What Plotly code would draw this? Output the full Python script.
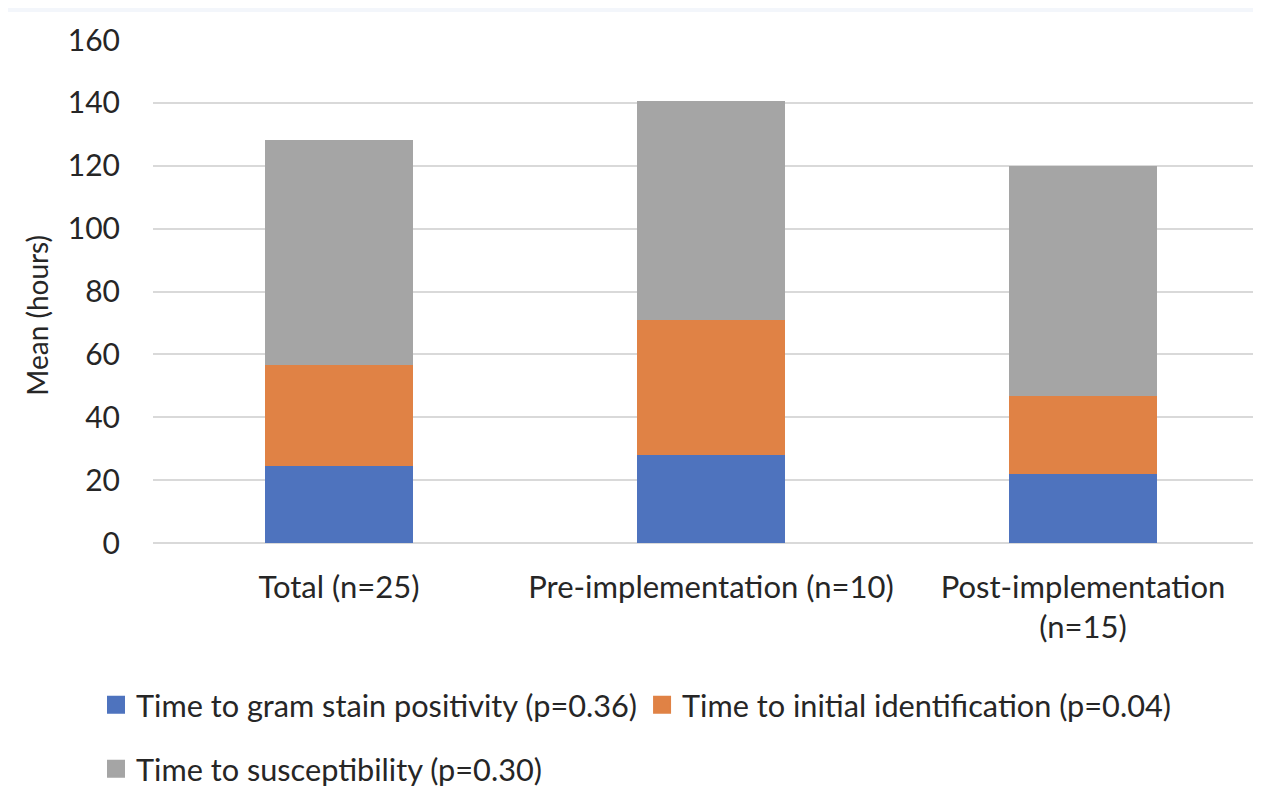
import plotly.graph_objects as go

categories = ["Total (n=25)", "Pre-implementation (n=10)", "Post-implementation<br>(n=15)"]
gram_stain = [24.4, 28.0, 22.1]
initial_id = [32.1, 43.0, 24.8]
susceptibility = [71.8, 69.5, 72.9]
series_names = [
    "Time to gram stain positivity (p=0.36)",
    "Time to initial identification (p=0.04)",
    "Time to susceptibility (p=0.30)",
]
colors = ["#4e73be", "#e08245", "#a5a5a5"]
y_ticks = [0, 20, 40, 60, 80, 100, 120, 140, 160]
y_title = "Mean (hours)"

FONT = "Lato"
TXT = "#262626"

series = [gram_stain, initial_id, susceptibility]
legends = ["legend", "legend", "legend2"]

fig = go.Figure()
for vals, name, col in zip(series, series_names, colors):
    fig.add_trace(go.Bar(x=categories, y=vals, name=name, showlegend=False,
                         marker=dict(color=col, line=dict(width=0))))
# legend entries with larger square swatches
for name, col, lg in zip(series_names, colors, legends):
    fig.add_trace(go.Scatter(x=[None], y=[None], mode="markers", name=name, legend=lg,
                             marker=dict(symbol="square", size=16, color=col,
                                         line=dict(color=col, width=2))))

fig.update_layout(
    width=1261, height=800,
    barmode="stack", bargap=0.6,
    paper_bgcolor="white", plot_bgcolor="white",
    margin=dict(l=145, r=0, t=32, b=265),
    font=dict(family=FONT, size=30, color=TXT),
    legend=dict(orientation="h", x=0.0698, xanchor="left", y=0.129, yanchor="middle",
                xref="container", yref="container", font=dict(size=30.7, color=TXT),
                itemwidth=30, itemsizing="trace", traceorder="normal",
                bgcolor="rgba(0,0,0,0)"),
    legend2=dict(orientation="h", x=0.0698, xanchor="left", y=0.049, yanchor="middle",
                 xref="container", yref="container", font=dict(size=30.7, color=TXT),
                 itemwidth=30, itemsizing="trace", bgcolor="rgba(0,0,0,0)"),
    shapes=[dict(type="rect", xref="paper", yref="paper", x0=-0.2, x1=1.0,
                 y0=1.0557, y1=1.07, line=dict(width=0), fillcolor="#f3f6fb", layer="below")],
    annotations=[dict(text=y_title, xref="paper", yref="paper", x=-0.1035, y=0.453,
                      xanchor="center", yanchor="middle", textangle=-90, showarrow=False,
                      font=dict(size=28, color=TXT))],
)
fig.update_xaxes(type="category", range=[-0.5, 2.5], showgrid=False, showline=False,
                 ticks="", tickfont=dict(size=31, color=TXT), ticklabelstandoff=23)
fig.update_yaxes(range=[0, 160], tickvals=y_ticks, showgrid=True, gridcolor="#d9d9d9",
                 gridwidth=1.5, zeroline=True, zerolinecolor="#d9d9d9", zerolinewidth=1.5,
                 showline=False, ticks="", tickfont=dict(size=30, color=TXT),
                 ticklabelstandoff=32)

fig.write_html("out.html")
